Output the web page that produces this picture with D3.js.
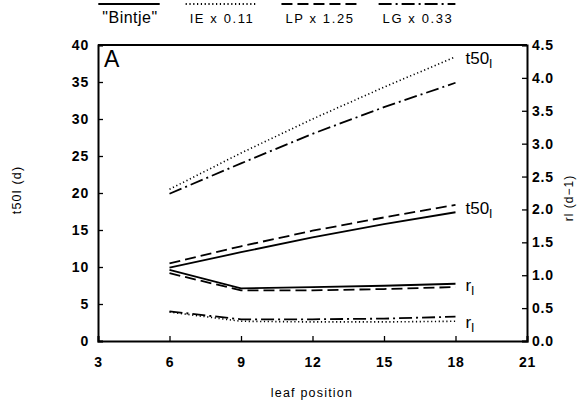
<!DOCTYPE html>
<html>
<head>
<meta charset="utf-8">
<script src="https://cdn.jsdelivr.net/npm/d3@7"></script>
<style>
  body { margin: 0; background: #fff; }
  text { font-family: "Liberation Sans", Arial, sans-serif; fill: #000; }
</style>
</head>
<body>
<div id="chart"></div>
<script>
// leaf positions sampled
const leafPos = [6, 9, 12, 15, 18];

// t50l (left axis, days)
const t50Bintje = [9.9, 12.0, 14.0, 15.8, 17.4];
const t50IE     = [20.5, 25.4, 30.0, 34.3, 38.4];
const t50LP     = [10.5, 12.8, 14.9, 16.7, 18.4];
const t50LG     = [19.9, 24.0, 28.0, 31.6, 34.9];

// rl (right axis, d-1)
const rBintje = [1.08, 0.80, 0.82, 0.84, 0.87];
const rIE     = [0.44, 0.30, 0.29, 0.29, 0.30];
const rLP     = [1.03, 0.77, 0.77, 0.79, 0.82];
const rLG     = [0.45, 0.33, 0.33, 0.34, 0.37];

const xTicks = [3, 6, 9, 12, 15, 18, 21];
const yLeftTicks = [0, 5, 10, 15, 20, 25, 30, 35, 40];
const yRightTicks = [0, 0.5, 1, 1.5, 2, 2.5, 3, 3.5, 4, 4.5];

const legendNames = ['"Bintje"', "IE x 0.11", "LP x 1.25", "LG x 0.33"];
const dashes = [null, "1.2,2.6", "11,5", "13,4,2,4"];

const W = 579, H = 405;
const pLeft = 98, pRight = 527, pTop = 45, pBottom = 341;

const svg = d3.select("#chart").append("svg")
    .attr("width", W).attr("height", H);

const x = d3.scaleLinear().domain([3, 21]).range([pLeft, pRight]);
const yL = d3.scaleLinear().domain([0, 40]).range([pBottom, pTop]);
const yR = d3.scaleLinear().domain([0, 4.5]).range([pBottom, pTop]);

function tickText(g) {
    g.selectAll("text")
        .style("font-size", "14px")
        .style("letter-spacing", "0.8px")
        .style("font-weight", "600");
}

// axes with inward ticks
svg.append("g")
    .attr("transform", "translate(0," + pBottom + ")")
    .call(d3.axisBottom(x).tickValues(xTicks).tickSize(-5).tickPadding(16).tickFormat(d3.format("d")))
    .call(tickText);

svg.append("g")
    .attr("transform", "translate(" + pLeft + ",0)")
    .call(d3.axisLeft(yL).tickValues(yLeftTicks).tickSize(-5).tickPadding(9).tickFormat(d3.format("d")))
    .call(tickText);

svg.append("g")
    .attr("transform", "translate(" + pRight + ",0)")
    .call(d3.axisRight(yR).tickValues(yRightTicks).tickSize(-5).tickPadding(5).tickFormat(d3.format(".1f")))
    .call(tickText);

svg.selectAll(".domain").attr("stroke-width", 2);
svg.selectAll(".tick line").attr("stroke-width", 1.3);

// top frame
svg.append("line")
    .attr("x1", pLeft).attr("x2", pRight)
    .attr("y1", pTop).attr("y2", pTop)
    .attr("stroke", "#000").attr("stroke-width", 2);

const lineL = d3.line().x((d, i) => x(leafPos[i])).y(d => yL(d));
const lineR = d3.line().x((d, i) => x(leafPos[i])).y(d => yR(d));

const t50Series = [t50Bintje, t50IE, t50LP, t50LG];
const rSeries = [rBintje, rIE, rLP, rLG];

t50Series.forEach((s, i) => {
    svg.append("path")
        .attr("d", lineL(s))
        .attr("fill", "none")
        .attr("stroke", "#000")
        .attr("stroke-width", i === 1 ? 1.6 : 1.8)
        .attr("stroke-dasharray", dashes[i]);
});

rSeries.forEach((s, i) => {
    svg.append("path")
        .attr("d", lineR(s))
        .attr("fill", "none")
        .attr("stroke", "#000")
        .attr("stroke-width", i === 1 ? 1.6 : 1.8)
        .attr("stroke-dasharray", dashes[i]);
});

// curve labels with subscript l
function curveLabel(name, yPos) {
    const t = svg.append("text")
        .attr("x", x(18) + 10)
        .attr("y", yPos + 5)
        .style("font-size", "17px");
    t.append("tspan").text(name);
    t.append("tspan").attr("dy", 4).style("font-size", "13px").text("l");
}
curveLabel("t50", (yL(t50IE[4]) + yL(t50LG[4])) / 2 - 11);
curveLabel("t50", (yL(t50Bintje[4]) + yL(t50LP[4])) / 2);
curveLabel("r", (yR(rBintje[4]) + yR(rLP[4])) / 2 + 1);
curveLabel("r", (yR(rIE[4]) + yR(rLG[4])) / 2 + 4);

// panel letter
svg.append("text")
    .attr("x", pLeft + 6).attr("y", pTop + 22)
    .style("font-size", "23px")
    .text("A");

// axis titles
svg.append("text")
    .attr("x", 312).attr("y", 397)
    .attr("text-anchor", "middle")
    .style("font-size", "12.5px")
    .style("letter-spacing", "1.2px")
    .text("leaf position");

svg.append("text")
    .attr("transform", "translate(21,190) rotate(-90)")
    .attr("text-anchor", "middle")
    .style("font-size", "12.5px")
    .style("letter-spacing", "1.2px")
    .text("t50l (d)");

svg.append("text")
    .attr("transform", "translate(573,198) rotate(-90)")
    .attr("text-anchor", "middle")
    .style("font-size", "12px")
    .style("letter-spacing", "1px")
    .text("rl (d−1)");

// legend (line samples above names)
const legendX = [130, 222, 320, 418];
legendNames.forEach((n, i) => {
    const t = svg.append("text")
        .attr("x", legendX[i]).attr("y", 23)
        .attr("text-anchor", "middle")
        .style("font-size", i === 0 ? "16px" : "13px")
        .style("letter-spacing", i === 0 ? "0.5px" : "1.6px")
        .text(n);
    const w = t.node().getComputedTextLength();
    svg.append("line")
        .attr("x1", legendX[i] - w / 2 - 4).attr("x2", legendX[i] + w / 2 + 2)
        .attr("y1", 4).attr("y2", 4)
        .attr("stroke", "#000").attr("stroke-width", 2)
        .attr("stroke-dasharray", dashes[i]);
});
</script>
</body>
</html>
